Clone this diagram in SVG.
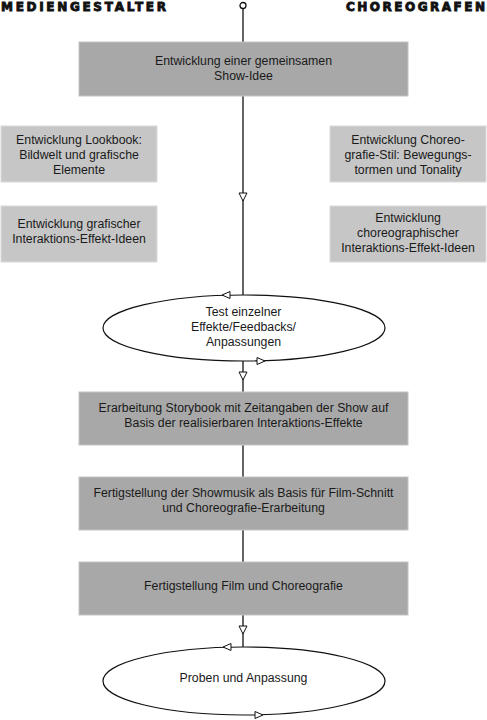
<svg xmlns="http://www.w3.org/2000/svg" width="487" height="720" viewBox="0 0 487 720">
<style>
.t{font-family:"Liberation Sans",Arial,sans-serif;font-size:12.3px;fill:#1a1a1a;text-anchor:middle}
.h{font-family:"DejaVu Sans","Liberation Sans",sans-serif;font-size:12px;font-weight:bold;fill:#111;stroke:#111;stroke-width:0.9}
.main{fill:#a8a8a8;stroke:#c4c4c4;stroke-width:1}
.side{fill:#c6c6c6;stroke:#dadada;stroke-width:1}
.ell{fill:#fff;stroke:#111;stroke-width:1.2}
.ln{stroke:#111;stroke-width:1.3;fill:none}
.ar{fill:#fff;stroke:#111;stroke-width:1}
</style>
<defs>
<path id="ad" d="M-4,-4 L4,-4 L0,4 Z"/>
<path id="al" d="M-4,0 L4,-3.5 L4,3.5 Z"/>
<path id="ar" d="M4,0 L-4,-3.5 L-4,3.5 Z"/>
</defs>
<g id="headers">
<text class="h" x="1" y="11" textLength="165" lengthAdjust="spacing">MEDIENGESTALTER</text>
<text class="h" x="346" y="11" textLength="139" lengthAdjust="spacing">CHOREOGRAFEN</text>
</g>
<g id="connectors">
<line class="ln" x1="243" y1="9" x2="243" y2="42"/>
<line class="ln" x1="243" y1="96" x2="243" y2="295"/>
<line class="ln" x1="243" y1="361" x2="243" y2="392"/>
<line class="ln" x1="243" y1="445" x2="243" y2="477"/>
<line class="ln" x1="243" y1="530" x2="243" y2="562"/>
<line class="ln" x1="243" y1="615" x2="243" y2="647"/>
<circle cx="243" cy="5.5" r="3" fill="#fff" stroke="#111" stroke-width="1.3"/>
<use href="#ad" class="ar" x="243" y="197"/>
<use href="#ad" class="ar" x="243" y="376"/>
<use href="#ad" class="ar" x="243" y="630"/>
</g>
<g id="n1"><rect class="main" x="79" y="42" width="329" height="54"/>
<text class="t" x="243.5" y="65">Entwicklung einer gemeinsamen</text>
<text class="t" x="243.5" y="80">Show-Idee</text></g>
<g id="n2"><rect class="side" x="1" y="126" width="156" height="56"/>
<text class="t" x="79" y="144">Entwicklung Lookbook:</text>
<text class="t" x="79" y="159">Bildwelt und grafische</text>
<text class="t" x="79" y="174">Elemente</text></g>
<g id="n3"><rect class="side" x="330" y="126" width="156" height="56"/>
<text class="t" x="408" y="144">Entwicklung Choreo-</text>
<text class="t" x="408" y="159">grafie-Stil: Bewegungs-</text>
<text class="t" x="408" y="174">tormen und Tonality</text></g>
<g id="n4"><rect class="side" x="1" y="206" width="156" height="56"/>
<text class="t" x="79" y="228">Entwicklung grafischer</text>
<text class="t" x="79" y="243">Interaktions-Effekt-Ideen</text></g>
<g id="n5"><rect class="side" x="330" y="206" width="156" height="56"/>
<text class="t" x="408" y="222">Entwicklung</text>
<text class="t" x="408" y="237">choreographischer</text>
<text class="t" x="408" y="252">Interaktions-Effekt-Ideen</text></g>
<g id="n6"><ellipse class="ell" cx="244" cy="328" rx="141" ry="33"/>
<use href="#al" class="ar" x="226" y="295"/>
<use href="#ar" class="ar" x="261" y="361"/>
<text class="t" x="243.5" y="316">Test einzelner</text>
<text class="t" x="243.5" y="331">Effekte/Feedbacks/</text>
<text class="t" x="243.5" y="346">Anpassungen</text></g>
<g id="n7"><rect class="main" x="79" y="392" width="329" height="53"/>
<text class="t" x="243.5" y="412">Erarbeitung Storybook mit Zeitangaben der Show auf</text>
<text class="t" x="243.5" y="427">Basis der realisierbaren Interaktions-Effekte</text></g>
<g id="n8"><rect class="main" x="79" y="477" width="329" height="53"/>
<text class="t" x="243.5" y="497">Fertigstellung der Showmusik als Basis für Film-Schnitt</text>
<text class="t" x="243.5" y="512">und Choreografie-Erarbeitung</text></g>
<g id="n9"><rect class="main" x="79" y="562" width="329" height="53"/>
<text class="t" x="243.5" y="590">Fertigstellung Film und Choreografie</text></g>
<g id="n10"><ellipse class="ell" cx="244" cy="681" rx="141" ry="34"/>
<use href="#al" class="ar" x="227" y="647"/>
<use href="#ar" class="ar" x="259" y="715"/>
<text class="t" x="243.5" y="682">Proben und Anpassung</text></g>
</svg>
